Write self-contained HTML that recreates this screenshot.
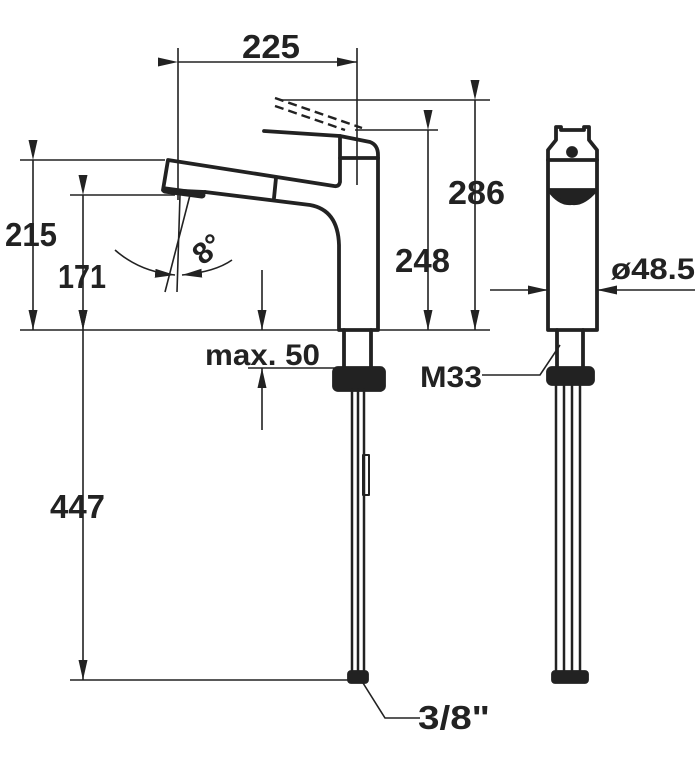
<!DOCTYPE html>
<html><head><style>
html,body{margin:0;padding:0;background:#fff;}
svg{display:block;}
text{font-family:"Liberation Sans",sans-serif;font-weight:bold;fill:#222;}
</style></head><body>
<svg width="700" height="763" viewBox="0 0 700 763" xmlns="http://www.w3.org/2000/svg">
<defs>
<marker id="a" viewBox="0 0 20 9" refX="20" refY="4.5" markerWidth="20" markerHeight="9" markerUnits="userSpaceOnUse" orient="auto"><path d="M0,0L20,4.5L0,9z" fill="#222"/></marker>
</defs>
<g stroke="#222" stroke-width="1.6" fill="none">
<line x1="178" y1="48" x2="178" y2="200"/>
<line x1="357" y1="48" x2="357" y2="185"/>
<line x1="280" y1="100" x2="490" y2="100"/>
<line x1="355" y1="130" x2="438" y2="130"/>
<line x1="20" y1="160" x2="165" y2="160"/>
<line x1="70" y1="195" x2="175" y2="195"/>
<line x1="20" y1="330" x2="490" y2="330"/>
<line x1="70" y1="680" x2="350" y2="680"/>
<line x1="248" y1="368" x2="340" y2="368"/>
<line x1="178" y1="62" x2="357" y2="62" marker-start="url(#a)" marker-end="url(#a)"/>
<line x1="475" y1="100" x2="475" y2="330" marker-start="url(#a)" marker-end="url(#a)"/>
<line x1="428" y1="130" x2="428" y2="330" marker-start="url(#a)" marker-end="url(#a)"/>
<line x1="33" y1="160" x2="33" y2="330" marker-start="url(#a)" marker-end="url(#a)"/>
<line x1="83" y1="195" x2="83" y2="330" marker-start="url(#a)" marker-end="url(#a)"/>
<line x1="83" y1="330" x2="83" y2="680" marker-start="url(#a)" marker-end="url(#a)"/>
<line x1="262" y1="270" x2="262" y2="330" marker-end="url(#a)"/>
<line x1="262" y1="430" x2="262" y2="368" marker-end="url(#a)"/>
<line x1="490" y1="290" x2="548" y2="290" marker-end="url(#a)"/>
<line x1="695" y1="290" x2="597" y2="290" marker-end="url(#a)"/>
<line x1="180" y1="195" x2="177" y2="292"/>
<line x1="190" y1="195" x2="165" y2="292"/>
<path d="M115,250 Q140,272 175,275" marker-end="url(#a)"/>
<path d="M232,260 Q215,272 182,275" marker-end="url(#a)"/>
<polyline points="482,375 540,375 560,345"/>
<polyline points="420,718 385,718 363,683"/>
<path d="M275,98 L362,128 M275,106 L345,130" stroke-dasharray="9,5" stroke-width="2.4"/>
</g>
<g stroke="#222" stroke-width="3.8" fill="none" stroke-linejoin="round" stroke-linecap="round">
<path d="M264,131 L340,136 L370,142 Q378,145 378,155 L378,330 L339,330 L339,245 Q338,210 310,205 L205,192"/>
<path d="M340,136 L340,182 Q339,187 334,186 L168,160 L163,190 L205,192"/>
<line x1="340" y1="158" x2="378" y2="158"/>
<line x1="276" y1="178" x2="274" y2="198"/>
<line x1="165" y1="190" x2="202" y2="195" stroke-width="7"/>
<path d="M344,330 L344,368 M371,330 L371,368"/>
<rect x="334" y="368" width="50" height="22" rx="4" fill="#222"/>
<path d="M352,390 L352,672 M358,390 L358,672 M364,390 L364,672" stroke-width="2.5"/>
<rect x="363" y="455" width="6" height="40" stroke-width="2"/>
<rect x="349" y="672" width="18" height="10" rx="2" fill="#222"/>
<path d="M548,330 L548,150 L556,140 L556,127 L561,127 L561,130 L584,130 L584,127 L589,127 L589,140 L597,150 L597,330 Z"/>
<line x1="548" y1="160" x2="597" y2="160"/>
<path d="M549,190 L596,190 Q583,205 572,203 Q560,205 549,190 Z" fill="#222"/>
<circle cx="572" cy="152" r="4" fill="#222"/>
<path d="M557,330 L557,368 M583,330 L583,368"/>
<rect x="548" y="368" width="45" height="16" rx="4" fill="#222"/>
<path d="M556,384 L556,672 M564,384 L564,672 M572,384 L572,672 M580,384 L580,672" stroke-width="2.5"/>
<rect x="553" y="672" width="34" height="10" rx="2" fill="#222"/>
</g>
<g font-size="33">
<text x="242" y="58" textLength="58" lengthAdjust="spacingAndGlyphs">225</text>
<text x="448" y="204" textLength="57" lengthAdjust="spacingAndGlyphs">286</text>
<text x="395" y="272" textLength="55" lengthAdjust="spacingAndGlyphs">248</text>
<text x="5" y="246" textLength="52" lengthAdjust="spacingAndGlyphs">215</text>
<text x="58" y="288" textLength="48" lengthAdjust="spacingAndGlyphs">171</text>
<text x="50" y="518" textLength="55" lengthAdjust="spacingAndGlyphs">447</text>
<text x="205" y="365" font-size="30" textLength="115" lengthAdjust="spacingAndGlyphs">max. 50</text>
<text x="611" y="279" font-size="30" textLength="84" lengthAdjust="spacingAndGlyphs">ø48.5</text>
<text x="420" y="387" font-size="30" textLength="62" lengthAdjust="spacingAndGlyphs">M33</text>
<text x="418" y="729" textLength="72" lengthAdjust="spacingAndGlyphs">3/8"</text>
<text x="0" y="0" font-size="30" transform="translate(203,266) rotate(-40)">8°</text>
</g>
</svg>
</body></html>
